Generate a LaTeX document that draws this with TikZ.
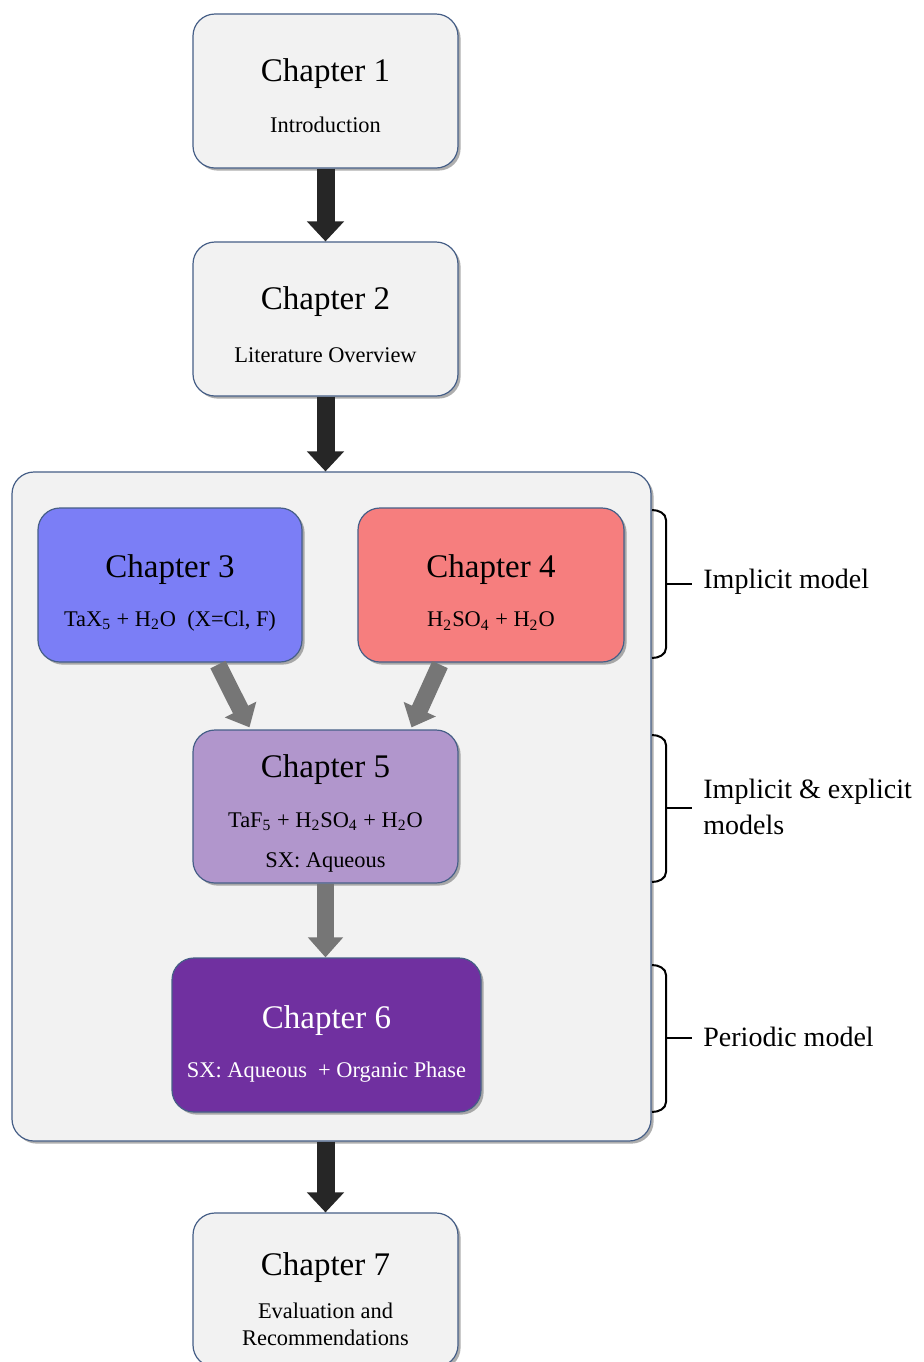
\documentclass[tikz,border=0pt]{standalone}
\usepackage{fontspec}
\setmainfont{Liberation Serif}
\usetikzlibrary{arrows.meta,shadows,calc}
\definecolor{boxgray}{RGB}{242,242,242}
\definecolor{boxedge}{RGB}{70,95,135}
\definecolor{chthree}{RGB}{123,126,246}
\definecolor{chfour}{RGB}{246,126,126}
\definecolor{chfive}{RGB}{177,150,204}
\definecolor{chsix}{RGB}{112,48,160}
\definecolor{darkarrow}{RGB}{38,38,38}
\definecolor{grayarrow}{RGB}{118,118,118}
\begin{document}
\begin{tikzpicture}[x=0.5pt,y=-0.5pt,
  chapbox/.style={draw=boxedge, line width=0.6pt, rounded corners=11pt, inner sep=0pt,
    drop shadow={shadow xshift=1.3pt, shadow yshift=-1.3pt, opacity=0.45, fill=black!70}},
  titletext/.style={inner sep=0pt, font=\fontsize{16.5}{20}\selectfont},
  subtext/.style={inner sep=0pt, font=\fontsize{11.2}{13.5}\selectfont, align=center},
  sidetext/.style={inner sep=0pt, anchor=west, align=left, font=\fontsize{14}{18}\selectfont},
  blackarrow/.style={draw=darkarrow, line width=9pt, -{Triangle[width=18pt,length=10pt]}},
  grayarr/.style={draw=grayarrow, line width=8.5pt, -{Triangle[width=17pt,length=10pt]}},
  bracket/.style={draw=black, line width=1pt},
]
\useasboundingbox[fill=white] (0,0) rectangle (923,1362);

% group container
\node[chapbox, fill=boxgray, minimum width=319.5pt, minimum height=334.5pt] (grp) at (331.5,806.5) {};

% chapter 1
\node[chapbox, fill=boxgray, minimum width=132.5pt, minimum height=77pt] (ch1) at (325.5,91) {};
\node[titletext] (t1) at ($(ch1.center)+(0,-17)$) {Chapter 1};
\node[subtext] (s1) at ($(ch1.center)+(0,34)$) {Introduction};

% chapter 2
\node[chapbox, fill=boxgray, minimum width=132.5pt, minimum height=77pt] (ch2) at (325.5,319) {};
\node[titletext] (t2) at ($(ch2.center)+(0,-17)$) {Chapter 2};
\node[subtext] (s2) at ($(ch2.center)+(0,36)$) {Literature Overview};

% chapter 3
\node[chapbox, fill=chthree, minimum width=132pt, minimum height=77pt] (ch3) at (170,585) {};
\node[titletext] (t3) at ($(ch3.center)+(0,-15)$) {Chapter 3};
\node[subtext] (s3) at ($(ch3.center)+(0,36)$) {TaX\textsubscript{5} + H\textsubscript{2}O\ \ (X=Cl, F)};

% chapter 4
\node[chapbox, fill=chfour, minimum width=133pt, minimum height=77pt] (ch4) at (491,585) {};
\node[titletext] (t4) at ($(ch4.center)+(0,-15)$) {Chapter 4};
\node[subtext] (s4) at ($(ch4.center)+(0,36)$) {H\textsubscript{2}SO\textsubscript{4} + H\textsubscript{2}O};

% chapter 5
\node[chapbox, fill=chfive, minimum width=132.5pt, minimum height=76.5pt] (ch5) at (325.5,806.5) {};
\node[titletext] (t5) at ($(ch5.center)+(0,-36.5)$) {Chapter 5};
\node[subtext] (s5) at ($(ch5.center)+(0,15)$) {TaF\textsubscript{5} + H\textsubscript{2}SO\textsubscript{4} + H\textsubscript{2}O};
\node[subtext] (r5) at ($(ch5.center)+(0,55.5)$) {SX: Aqueous};

% chapter 6
\node[chapbox, fill=chsix, minimum width=154.5pt, minimum height=77pt] (ch6) at (326.5,1035) {};
\node[titletext, text=white] (t6) at ($(ch6.center)+(0,-14)$) {Chapter 6};
\node[subtext, text=white] (s6) at ($(ch6.center)+(0,37)$) {SX: Aqueous\ \ + Organic Phase};

% chapter 7
\node[chapbox, fill=boxgray, minimum width=132.5pt, minimum height=77pt] (ch7) at (325.5,1290) {};
\node[titletext] (t7) at ($(ch7.center)+(0,-22)$) {Chapter 7};
\node[subtext] (s7) at ($(ch7.center)+(0,34)$) {Evaluation and\\Recommendations};

% arrows
\draw[blackarrow] (ch1.south) -- (ch2.north);
\draw[blackarrow] (ch2.south) -- (grp.north -| ch2.south);
\draw[blackarrow] (grp.south -| ch7.north) -- (ch7.north);
\draw[grayarr] ($(ch3.south)+(48,2)$) -- ($(ch5.north)+(-76,-2)$);
\draw[grayarr] ($(ch4.south)+(-51,2)$) -- ($(ch5.north)+(86,-2)$);
\draw[grayarr] (ch5.south) -- (ch6.north -| ch5.south);

% brackets
\draw[bracket] (652,510) to[out=0,in=90] (666,520) -- (666,648) to[out=-90,in=0] (652,658);
\draw[bracket] (666,584) -- (692,584);
\draw[bracket] (652,735) to[out=0,in=90] (666,745) -- (666,872) to[out=-90,in=0] (652,882);
\draw[bracket] (666,808) -- (692,808);
\draw[bracket] (652,965) to[out=0,in=90] (666,975) -- (666,1102) to[out=-90,in=0] (652,1112);
\draw[bracket] (666,1038) -- (692,1038);

\node[sidetext] (l1) at (703,582) {Implicit model};
\node[sidetext] (l2) at (703,807) {Implicit \& explicit\\models};
\node[sidetext] (l3) at (703,1037) {Periodic model};
\end{tikzpicture}
\end{document}
